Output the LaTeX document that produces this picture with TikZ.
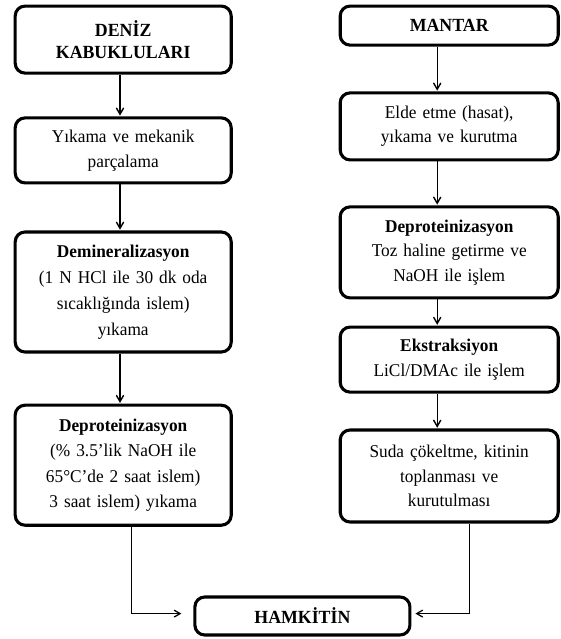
\documentclass[tikz,border=0pt]{standalone}
\usepackage{fontspec}
\setmainfont[WordSpace={0.7,0.5,0.5}, FakeStretch=0.96]{Liberation Serif}
\usepackage{tikz}
\usetikzlibrary{calc}
\usetikzlibrary{arrows}
\usetikzlibrary{positioning}

\tikzset{
  stepbox/.style={draw=black, line width=2.2pt, rounded corners=7pt, align=center,
                  inner sep=0pt, text width=5.0cm,
                  font=\fontsize{12.8}{17.5}\selectfont},
  flow/.style={->, >=angle 60, line width=1pt, shorten >=0.5pt},
  joint/.style={->, >=angle 60, line width=0.9pt}
}

\begin{document}
\begin{tikzpicture}
            % Frame to ensure alignment:
            \useasboundingbox                                                 (0.00, 0.00) rectangle (14.00,-15.975);
            % Sea shells column
            \node[stepbox, minimum width=5.40cm, minimum height=1.675cm, font=\fontsize{13.2}{15.5}\selectfont\bfseries]
                 (deniz)  at ( 3.08,-0.99) {DEN\.{I}Z\\KABUKLULARI};
            \node[stepbox, minimum width=5.40cm, minimum height=1.625cm]
                 (yikama) at ( 3.08,-3.76) {Yıkama ve mekanik\\parçalama};
            \node[stepbox, minimum width=5.40cm, minimum height=3.000cm, font=\fontsize{12.8}{18.5}\selectfont]
                 (demin)  at ( 3.08,-7.30) {\textbf{Demineralizasyon}\\(1 N HCl ile 30 dk oda\\sıcaklığında islem)\\yıkama};
            \node[stepbox, minimum width=5.40cm, minimum height=3.000cm, font=\fontsize{12.8}{18}\selectfont]
                 (deprotL) at ( 3.08,-11.63) {\textbf{Deproteinizasyon}\\(\% 3.5’lik NaOH ile\\65°C’de 2 saat islem)\\3 saat islem) yıkama};
            % Mushroom column
            \node[stepbox, minimum width=5.45cm, minimum height=0.975cm, font=\fontsize{13.2}{15.5}\selectfont\bfseries]
                 (mantar) at (11.23,-0.64) {MANTAR};
            \node[stepbox, minimum width=5.45cm, minimum height=1.675cm]
                 (elde)   at (11.23,-3.16) {Elde etme (hasat),\\yıkama ve kurutma};
            \node[stepbox, minimum width=5.45cm, minimum height=2.275cm]
                 (deprotR) at (11.23,-6.31) {\textbf{Deproteinizasyon}\\Toz haline getirme ve\\NaOH ile işlem};
            \node[stepbox, minimum width=5.45cm, minimum height=1.625cm]
                 (ekstr)  at (11.23,-8.99) {\textbf{Ekstraksiyon}\\LiCl/DMAc ile işlem};
            \node[stepbox, minimum width=5.45cm, minimum height=2.300cm]
                 (suda)   at (11.23,-11.90) {Suda çökeltme, kitinin\\toplanması ve\\kurutulması};
            % Result
            \node[stepbox, minimum width=5.375cm, minimum height=0.950cm, font=\fontsize{13.2}{15.5}\selectfont\bfseries]
                 (ham)    at ( 7.56,-15.40) {HAMK\.{I}T\.{I}N};
            % Arrows down the columns
            \draw[flow] ([xshift=-0.08cm]deniz.south)   -- ([xshift=-0.08cm]yikama.north);
            \draw[flow] ([xshift=-0.08cm]yikama.south)  -- ([xshift=-0.08cm]demin.north);
            \draw[flow] ([xshift=-0.08cm]demin.south)   -- ([xshift=-0.08cm]deprotL.north);
            \draw[flow] ([xshift=-0.30cm]mantar.south)  -- ([xshift=-0.30cm]elde.north);
            \draw[flow] ([xshift=-0.30cm]elde.south)    -- ([xshift=-0.30cm]deprotR.north);
            \draw[flow] ([xshift=-0.30cm]deprotR.south) -- ([xshift=-0.30cm]ekstr.north);
            \draw[flow] ([xshift=-0.30cm]ekstr.south)   -- ([xshift=-0.30cm]suda.north);
            % Both columns meet at the result
            \coordinate (inL) at ([shift={(-0.30cm,0.06cm)}]ham.west);
            \coordinate (inR) at ([shift={( 0.10cm,0.06cm)}]ham.east);
            \draw[joint] ([xshift= 0.20cm]deprotL.south) |- (inL);
            \draw[joint] ([xshift= 0.50cm]suda.south)    |- (inR);
        \end{tikzpicture}
\end{document}
